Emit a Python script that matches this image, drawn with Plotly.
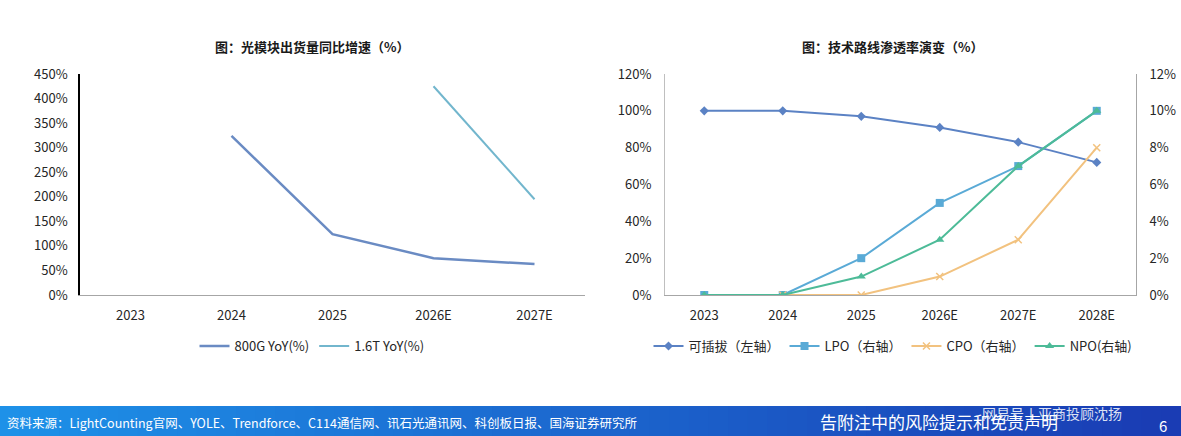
import plotly.graph_objects as go

# ---- data ----
years_left = ["2023", "2024", "2025", "2026E", "2027E"]
yoy_800g = [None, 324, 124, 75, 63]
yoy_16t = [None, None, None, 425, 195]

years_right = ["2023", "2024", "2025", "2026E", "2027E", "2028E"]
pluggable = [100, 100, 97, 91, 83, 72]   # left axis
lpo = [0, 0, 2, 5, 7, 10]                # right axis
cpo = [None, 0, 0, 1, 3, 8]              # right axis
npo = [0, 0, 1, 3, 7, 10]                # right axis

left_ticks = list(range(0, 451, 50))
right_ticks_l = list(range(0, 121, 20))
right_ticks_r = list(range(0, 13, 2))

W, H = 1181, 436
FONT = "Noto Sans CJK SC"
TXT = "#262626"

fig = go.Figure()

fig.add_trace(go.Scatter(x=years_left, y=yoy_800g, name="800G YoY(%)", mode="lines",
                         line=dict(color="#6A8BC3", width=2.5), xaxis="x", yaxis="y",
                         legend="legend"))
fig.add_trace(go.Scatter(x=years_left, y=yoy_16t, name="1.6T YoY(%)", mode="lines",
                         line=dict(color="#72B6CD", width=2), xaxis="x", yaxis="y",
                         legend="legend"))

fig.add_trace(go.Scatter(x=years_right, y=pluggable, name="可插拔（左轴）", mode="lines+markers",
                         line=dict(color="#5B82C4", width=2),
                         marker=dict(symbol="diamond", size=7, color="#5B82C4"),
                         xaxis="x2", yaxis="y2", legend="legend2"))
fig.add_trace(go.Scatter(x=years_right, y=lpo, name="LPO（右轴）", mode="lines+markers",
                         line=dict(color="#5AAAD6", width=2),
                         marker=dict(symbol="square", size=8, color="#5AAAD6"),
                         xaxis="x2", yaxis="y3", legend="legend2"))
fig.add_trace(go.Scatter(x=years_right, y=cpo, name="CPO（右轴）", mode="lines+markers",
                         line=dict(color="#F2C27F", width=2),
                         marker=dict(symbol="x-thin", size=7, color="#F2C27F",
                                     line=dict(color="#F2C27F", width=1.5)),
                         xaxis="x2", yaxis="y3", legend="legend2"))
fig.add_trace(go.Scatter(x=years_right, y=npo, name="NPO(右轴)", mode="lines+markers",
                         line=dict(color="#4DBB98", width=2),
                         marker=dict(symbol="triangle-up", size=8, color="#4DBB98"),
                         xaxis="x2", yaxis="y3", legend="legend2"))

ydom = [1 - 295 / H, 1 - 74 / H]
lx = [80 / W, 585 / W]
rx = [665 / W, 1136 / W]
tickfont = dict(family=FONT, size=13, color=TXT)
common = dict(automargin=False, showgrid=False, zeroline=False, ticks="", fixedrange=True)

fig.update_layout(
    template="none",
    width=W, height=H, margin=dict(l=0, r=0, t=0, b=0, pad=0, autoexpand=False),
    paper_bgcolor="white", plot_bgcolor="white",
    font=dict(family=FONT, color=TXT),
    xaxis=dict(domain=lx, type="category", range=[-0.5, 4.5],
               showline=True, linecolor="#A6A6A6", linewidth=1,
               tickfont=tickfont, ticklabelstandoff=8, anchor="y", **common),
    yaxis=dict(domain=ydom, range=[0, 450], tickvals=left_ticks,
               ticktext=[f"{v}%" for v in left_ticks],
               showline=True, linecolor="#000000", linewidth=1.5,
               tickfont=tickfont, ticklabelstandoff=8, anchor="x", **common),
    xaxis2=dict(domain=rx, type="category", range=[-0.5, 5.5],
                showline=True, linecolor="#A6A6A6", linewidth=1,
                tickfont=tickfont, ticklabelstandoff=8, anchor="y2", **common),
    yaxis2=dict(domain=ydom, range=[0, 120], tickvals=right_ticks_l,
                ticktext=[f"{v}%" for v in right_ticks_l],
                showline=True, linecolor="#BFBFBF", linewidth=1,
                tickfont=tickfont, ticklabelstandoff=10, anchor="x2", **common),
    yaxis3=dict(domain=ydom, range=[0, 12], tickvals=right_ticks_r,
                ticktext=[f"{v}%" for v in right_ticks_r],
                showline=True, linecolor="#A6A6A6", linewidth=1,
                tickfont=tickfont, ticklabelstandoff=10, overlaying="y2", side="right",
                anchor="x2", **common),
    legend=dict(orientation="h", x=312 / W, xanchor="center", y=1 - 346 / H, yanchor="middle",
                font=dict(family=FONT, size=13, color=TXT), bgcolor="rgba(0,0,0,0)",
                itemwidth=30, tracegroupgap=0),
    legend2=dict(orientation="h", x=893 / W, xanchor="center", y=1 - 346 / H, yanchor="middle",
                 font=dict(family=FONT, size=13, color=TXT), bgcolor="rgba(0,0,0,0)",
                 itemwidth=30, tracegroupgap=0),
    showlegend=True,
)

annotations = [
    dict(text="<b>图：光模块出货量同比增速（%）</b>", x=312 / W, y=1 - 46 / H, xref="paper",
         yref="paper", showarrow=False, xanchor="center", yanchor="middle",
         font=dict(family=FONT, size=13, color="#1a1a1a")),
    dict(text="<b>图：技术路线渗透率演变（%）</b>", x=893 / W, y=1 - 46 / H, xref="paper",
         yref="paper", showarrow=False, xanchor="center", yanchor="middle",
         font=dict(family=FONT, size=13, color="#1a1a1a")),
    dict(text="资料来源：LightCounting官网、YOLE、Trendforce、C114通信网、讯石光通讯网、科创板日报、国海证券研究所",
         x=5 / W, y=1 - 422 / H, xref="paper", yref="paper", showarrow=False,
         xanchor="left", yanchor="middle", font=dict(family=FONT, size=12.5, color="white")),
    dict(text="告附注中的风险提示和免责声明", x=818 / W, y=1 - 421 / H, xref="paper", yref="paper",
         showarrow=False, xanchor="left", yanchor="middle",
         font=dict(family=FONT, size=17, color="white")),
    dict(text="网易号丨亚商投顾沈扬", x=980 / W, y=1 - 413 / H, xref="paper", yref="paper",
         showarrow=False, xanchor="left", yanchor="middle",
         font=dict(family=FONT, size=14, color="rgba(255,255,255,0.85)")),
    dict(text="6", x=1163 / W, y=1 - 425 / H, xref="paper", yref="paper", showarrow=False,
         xanchor="center", yanchor="middle", font=dict(family=FONT, size=15, color="white")),
]
fig.update_layout(annotations=annotations)

# gradient banner at the bottom
n = 60
c0 = (30, 145, 232)
c1 = (26, 60, 180)
shapes = []
for i in range(n):
    t = i / (n - 1)
    c = tuple(int(c0[k] + (c1[k] - c0[k]) * t) for k in range(3))
    shapes.append(dict(type="rect", xref="paper", yref="paper",
                       x0=i / n, x1=(i + 1) / n + 0.001, y0=0, y1=1 - 406 / H,
                       fillcolor=f"rgb{c}", line=dict(width=0), layer="below"))
fig.update_layout(shapes=shapes)

fig.write_html("out.html")
